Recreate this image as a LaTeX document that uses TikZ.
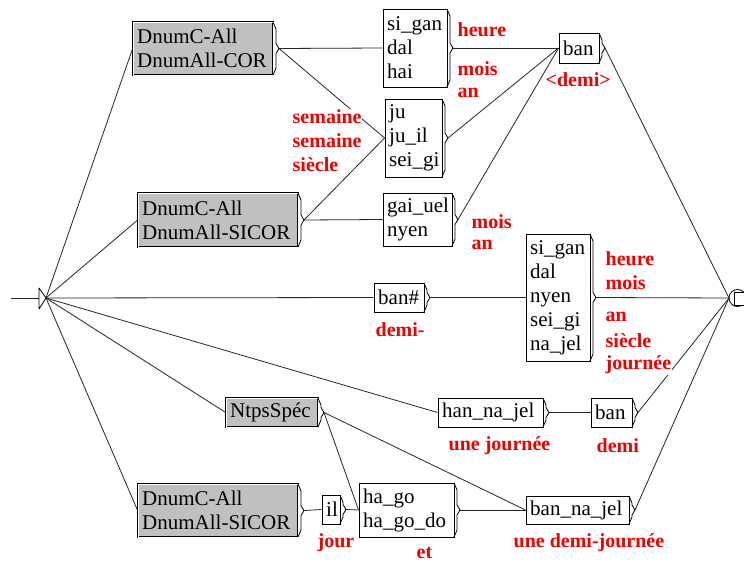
\documentclass[tikz,border=0pt]{standalone}
\usepackage{fontspec}
\setmainfont{Liberation Serif}
\usetikzlibrary{calc}
\definecolor{boxgray}{RGB}{192,192,192}
\definecolor{outred}{RGB}{240,0,0}
\tikzset{
  plainbox/.style={draw=black, line width=0.9pt, fill=white, inner sep=0pt},
  graybox/.style={plainbox, fill=boxgray, double=white, double distance=0.6pt, line width=0.7pt},
  boxtext/.style={anchor=west, inner sep=0pt, align=left, font=\fontsize{21}{24}\selectfont},
  tabline/.style={draw=black, line width=0.8pt, line join=round},
  edge/.style={draw=black!85, line width=0.8pt},
  lab/.style={anchor=west, text=outred, font=\fontsize{20}{24}\selectfont\bfseries, inner sep=0.5pt, fill=white}
}
% #1 style, #2 name, #3 left, #4 top, #5 right, #6 bottom, #7 text
\newcommand\ubox[7]{%
  \pgfmathsetmacro\cx{(#3+#5)/2}%
  \pgfmathsetmacro\cy{(#4+#6)/2}%
  \pgfmathsetmacro\ww{#5-#3}%
  \pgfmathsetmacro\hh{#6-#4}%
  \node[#1, minimum width=\ww pt, minimum height=\hh pt] (#2) at (\cx,\cy) {};
  \node[boxtext] (#2-t) at (#3+4,\cy) {#7};
  \draw[tabline] (#5,#4) -- (#5+3,#4+7) -- (#5+3,\cy-5) -- (#5+6,\cy) -- (#5+3,\cy+5) -- (#5+3,#6-7) -- (#5,#6);
  \coordinate (#2-o) at (#5+6,\cy);
}
\begin{document}
\begin{tikzpicture}[x=1pt,y=-1pt]
\useasboundingbox (0,0) rectangle (744,562);
\clip (0,0) rectangle (744,562);
\fill[white] (0,0) rectangle (744,562);

% initial state
\coordinate (instart) at (11,298);
\coordinate (init) at (46,298);
\draw[edge] (instart) -- (39,298);
\draw[tabline, fill=white] (39,288) -- (init) -- (39,309) -- cycle;

% final state
\coordinate (fin) at (729,298);
\draw[tabline, fill=white] (737.5,298) circle (8.5);
\draw[tabline, fill=white] (734,292) rectangle (750,305);

% boxes
\ubox{graybox}{A}{133}{22}{273}{75}{DnumC-All\\DnumAll-COR}
\ubox{graybox}{B}{138}{193}{298}{247}{DnumC-All\\DnumAll-SICOR}
\ubox{plainbox}{C}{383}{9}{447}{87}{si\_gan\\dal\\hai}
\ubox{plainbox}{D}{385}{99}{442}{177}{ju\\ju\_il\\sei\_gi}
\ubox{plainbox}{E}{383}{193}{452}{246}{gai\_uel\\nyen}
\ubox{plainbox}{F}{559}{33}{599}{63}{ban}
\ubox{plainbox}{G}{374}{283}{424}{312}{ban\#}
\ubox{plainbox}{H}{526}{234}{590}{361}{si\_gan\\dal\\nyen\\sei\_gi\\na\_jel}
\ubox{graybox}{I}{226}{398}{318}{427}{NtpsSpéc}
\ubox{plainbox}{J}{438}{398}{543}{427}{han\_na\_jel}
\ubox{plainbox}{K}{591}{398}{632}{427}{ban}
\ubox{graybox}{L}{138}{484}{298}{537}{DnumC-All\\DnumAll-SICOR}
\ubox{plainbox}{M}{322}{495}{340}{524}{il}
\ubox{plainbox}{N}{359}{483}{454}{537}{ha\_go\\ha\_go\_do}
\ubox{plainbox}{O}{526}{496}{629}{524}{ban\_na\_jel}

% edges
\draw[edge] (init) -- (A.west);
\draw[edge] (init) -- (B.west);
\draw[edge] (init) -- (G.west);
\draw[edge] (init) -- (I.west);
\draw[edge] (init) -- (J.west);
\draw[edge] (init) -- (L.west);
\draw[edge] (A-o) -- (C.west);
\draw[edge] (A-o) -- (D.west);
\draw[edge] (B-o) -- (D.west);
\draw[edge] (B-o) -- (E.west);
\draw[edge] (C-o) -- (F.west);
\draw[edge] (D-o) -- (F.west);
\draw[edge] (E-o) -- (F.west);
\draw[edge] (F-o) -- (fin);
\draw[edge] (G-o) -- (H.west);
\draw[edge] (H-o) -- (fin);
\draw[edge] (I-o) -- (N.west);
\draw[edge] (I-o) -- (O.west);
\draw[edge] (J-o) -- (K.west);
\draw[edge] (K-o) -- (fin);
\draw[edge] (L-o) -- (M.west);
\draw[edge] (M-o) -- (N.west);
\draw[edge] (N-o) -- (O.west);
\draw[edge] (O-o) -- (fin);

% outputs
\node[lab] (l1) at (457,30) {heure};
\node[lab] (l2) at (457,69) {mois};
\node[lab] (l3) at (457,93) {an};
\node[lab] (l4) at (292,117) {semaine};
\node[lab] (l5) at (292,141) {semaine};
\node[lab] (l6) at (292,165) {siècle};
\node[lab] (l7) at (471,222) {mois};
\node[lab] (l8) at (471,245) {an};
\node[lab] (l9) at (545,80) {<demi>};
\node[lab] (l10) at (375,330) {demi-};
\node[lab] (l11) at (605,259) {heure};
\node[lab] (l12) at (605,283) {mois};
\node[lab] (l13) at (605,317) {an};
\node[lab] (l14) at (605,341) {siècle};
\node[lab] (l15) at (605,365) {journée};
\node[lab] (l16) at (448,446) {une journée};
\node[lab] (l17) at (596,446) {demi};
\node[lab] (l18) at (317,543) {jour};
\node[lab] (l19) at (416,553) {et};
\node[lab] (l20) at (513,543) {une demi-journée};
\end{tikzpicture}
\end{document}
